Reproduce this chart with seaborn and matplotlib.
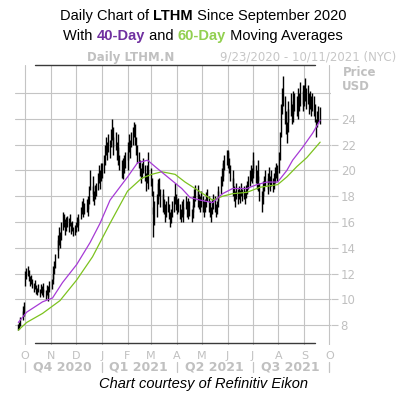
import matplotlib
matplotlib.use("Agg")
import matplotlib.pyplot as plt
import matplotlib.transforms as mtransforms
import matplotlib.dates as mdates
import numpy as np
import pandas as pd
import seaborn as sns

# ---------------- data: daily (low, high) bars, USD ----------------
sep20 = [(7.6,8.1),(7.7,8.2),(7.9,8.6),(8.4,9.1),(8.8,9.5),(8.7,9.8)]
oct20 = [(11.0,12.2),(11.6,12.4),(11.8,12.6),(11.4,12.3),(11.0,11.8),(11.2,11.9),(10.9,11.6),
         (10.6,11.3),(10.8,11.5),(10.4,11.1),(10.3,10.9),(10.6,11.2),(10.2,10.8),(10.5,11.2),
         (10.3,11.0),(10.6,11.3),(10.2,10.8),(10.0,10.7),(10.3,11.1),(9.9,10.5),(10.2,11.0),(10.6,11.4)]
nov20 = [(10.8,11.6),(11.2,12.0),(11.6,12.6),(12.0,13.0),(12.4,13.5),(13.2,14.6),(13.8,15.0),
         (14.2,15.6),(14.0,15.2),(14.6,16.0),(15.4,16.8),(15.6,16.6),(15.0,16.2),(15.3,16.4),
         (15.6,16.5),(15.2,16.3),(15.7,16.6),(15.1,16.0),(15.3,16.1),(14.9,15.6),(15.0,15.8)]
dec20 = [(15.2,16.0),(15.6,16.4),(15.3,16.2),(15.8,16.6),(16.2,17.2),(16.6,17.6),(16.8,17.9),
         (16.4,17.3),(16.6,17.5),(16.8,17.8),(16.5,17.4),(17.0,18.0),(17.4,18.8),(18.5,20.0),
         (18.2,19.6),(17.6,18.8),(17.3,18.4),(17.8,18.9),(18.0,19.0),(18.5,19.8),(19.0,20.4),
         (18.6,20.0),(19.2,20.6)]
jan21 = [(19.4,20.6),(19.8,21.2),(20.4,22.0),(21.2,22.6),(20.8,22.2),(21.4,22.8),(21.0,22.4),
         (21.8,23.2),(22.4,24.0),(21.8,23.4),(21.2,22.6),(21.6,23.0),(20.8,22.2),(21.2,22.8),
         (20.4,21.8),(20.0,21.2),(19.4,20.8),(19.8,21.0),(19.3,20.4),(19.8,21.2),(20.2,21.4)]
feb21 = [(20.0,21.4),(20.8,22.2),(21.4,22.8),(21.0,22.4),(21.8,23.0),(22.0,23.4),(22.6,23.8),
         (22.0,23.6),(21.2,22.6),(20.6,22.0),(20.2,21.4),(19.6,20.8),(19.0,20.2),(19.4,20.6),
         (19.8,21.0),(19.2,20.4),(18.4,19.8),(19.0,20.4),(19.8,21.4),(18.6,20.0)]
mar21 = [(18.8,20.2),(18.0,19.4),(16.6,18.4),(14.8,17.2),(15.8,17.6),(16.4,18.2),(17.4,19.3),
         (17.8,19.0),(18.0,19.4),(17.2,18.6),(16.8,18.2),(17.2,18.6),(16.6,17.8),(16.0,17.4),
         (16.4,17.6),(16.8,18.0),(16.2,17.4),(15.6,16.8),(15.9,17.0),(16.4,17.6),(16.8,18.0),
         (17.4,19.0),(16.9,18.2)]
apr21 = [(16.6,17.8),(16.8,17.9),(16.2,17.4),(16.0,17.0),(16.4,17.6),(16.0,17.2),(16.6,17.8),
         (17.0,18.0),(16.4,17.6),(16.8,17.9),(16.2,17.4),(16.5,17.6),(16.0,17.0),(16.3,17.3),
         (16.8,18.0),(17.2,18.6),(17.6,18.9),(17.2,18.4),(17.8,18.9),(17.0,18.2),(16.8,18.0),(17.2,18.4)]
may21 = [(16.8,18.0),(16.4,17.6),(16.8,17.8),(17.2,18.3),(17.6,18.6),(16.8,18.0),(16.4,17.6),
         (16.0,17.2),(16.6,17.8),(17.0,18.2),(16.8,18.0),(16.4,17.4),(16.6,17.6),(17.2,18.4),
         (17.6,18.8),(18.2,19.6),(18.8,20.2),(19.2,20.6),(19.6,20.8),(20.0,21.2),(20.4,21.6)]
jun21 = [(20.2,21.4),(20.6,21.6),(19.8,21.0),(19.2,20.4),(18.8,20.0),(18.0,19.4),(17.6,18.8),
         (17.2,18.4),(17.8,19.0),(17.4,18.6),(17.8,18.8),(17.5,18.5),(18.0,19.0),(17.6,18.6),
         (17.8,18.8),(17.4,18.4),(17.9,18.9),(18.2,19.2),(18.6,19.6),(18.8,20.0),(19.2,20.4),(19.0,20.2)]
jul21 = [(19.8,21.4),(19.4,20.8),(19.0,20.4),(18.6,20.0),(19.2,20.8),(18.4,19.6),(17.6,19.0),
         (16.8,18.4),(17.4,18.8),(18.0,19.2),(18.4,19.6),(18.8,20.0),(18.2,19.4),(18.6,19.8),
         (19.0,20.3),(18.4,19.6),(18.8,20.0),(18.3,19.4),(18.6,19.8),(19.0,20.3),(19.4,20.6),(19.2,20.4)]
aug21 = [(19.8,21.4),(20.8,23.0),(22.6,25.2),(24.4,26.4),(25.0,27.3),(23.6,25.8),(22.8,24.6),
         (22.1,23.8),(23.0,24.8),(23.8,25.4),(24.2,26.0),(23.6,25.2),(24.4,26.2),(23.8,25.4),
         (24.6,26.0),(24.2,25.8),(24.8,26.4),(24.0,25.6),(24.6,26.0),(25.0,26.9),(25.2,26.6),(24.6,26.2)]
sep21 = [(25.0,26.6),(25.4,27.2),(24.8,26.4),(25.2,26.6),(24.4,26.0),(24.8,26.2),(24.2,25.8),
         (24.6,26.0),(24.2,25.8),(23.8,25.2),(22.6,24.0),(23.4,24.6),(23.8,25.0),(23.6,24.9)]

first_day = "2020-09-23"
last_day = "2021-09-20"

# moving averages
ma40_dates = ["2020-09-23","2020-10-03","2020-10-22","2020-11-03","2020-11-15","2020-12-02",
              "2020-12-18","2020-12-30","2021-01-11","2021-02-01","2021-02-13","2021-02-25",
              "2021-03-06","2021-03-21","2021-04-07","2021-04-17","2021-04-29","2021-05-14",
              "2021-05-26","2021-06-07","2021-06-24","2021-07-06","2021-07-18","2021-07-31",
              "2021-08-11","2021-08-18","2021-08-30","2021-09-11","2021-09-20"]
ma40_vals = [8.2, 9.0, 9.8, 10.1, 11.3, 12.7, 14.4, 15.9, 17.7, 19.5, 20.6, 20.8,
             20.3, 19.5, 18.6, 17.9, 17.7, 17.5, 18.2, 18.6, 18.6, 18.9, 19.1, 19.1,
             20.0, 20.8, 21.8, 22.9, 23.9]
ma60_dates = ["2020-09-23","2020-10-03","2020-10-22","2020-11-12","2020-12-02","2020-12-21",
              "2021-01-11","2021-02-01","2021-02-18","2021-03-02","2021-03-14","2021-03-30",
              "2021-04-11","2021-04-23","2021-05-14","2021-05-26","2021-06-07","2021-06-24",
              "2021-07-10","2021-07-31","2021-08-11","2021-08-23","2021-09-04","2021-09-20"]
ma60_vals = [7.6, 8.2, 8.9, 9.9, 11.5, 13.3, 15.9, 18.4, 19.4, 19.7, 19.9, 19.7,
             19.1, 18.6, 17.7, 18.0, 18.2, 18.3, 18.7, 18.9, 19.5, 20.3, 21.0, 22.2]

y_ticks = [8, 10, 12, 14, 16, 18, 20, 22, 24]
month_letters = ["O", "N", "D", "J", "F", "M", "A", "M", "J", "J", "A", "S", "O"]
quarter_labels = ["Q4 2020", "Q1 2021", "Q2 2021", "Q3 2021"]
quarter_centers = ["2020-11-15", "2021-02-14", "2021-05-16", "2021-08-15"]
quarter_bounds = ["2020-10-01", "2021-01-01", "2021-04-01", "2021-07-01", "2021-10-01"]

# ---------------- build frames ----------------
bars = sep20 + oct20 + nov20 + dec20 + jan21 + feb21 + mar21 + apr21 + may21 + jun21 + jul21 + aug21 + sep21
days = pd.bdate_range(first_day, last_day)
assert len(days) == len(bars), (len(days), len(bars))
df = pd.DataFrame({"date": days, "low": [b[0] for b in bars], "high": [b[1] for b in bars]})
ma40 = pd.DataFrame({"date": pd.to_datetime(ma40_dates), "value": ma40_vals})
ma60 = pd.DataFrame({"date": pd.to_datetime(ma60_dates), "value": ma60_vals})

sns.set_style("white")
plt.rcParams["font.family"] = ["DejaVu Sans"]

W, H = 398, 400
fig = plt.figure(figsize=(W / 100, H / 100), dpi=100)

def fx(px):
    return px / W

def fy(py):
    return 1 - py / H

ax_left, ax_right, ax_top, ax_bottom = 15, 331, 65, 345
ax = fig.add_axes([fx(ax_left), fy(ax_bottom), fx(ax_right - ax_left), (ax_bottom - ax_top) / H])

GRID = "#c4c4c4"
LABEL = "#c0c0c0"

# price bars
ax.vlines(df["date"], df["low"], df["high"], color="black", linewidth=1.0, zorder=3)
# moving averages
sns.lineplot(data=ma60, x="date", y="value", ax=ax, color="#7cc21e", linewidth=0.9, zorder=4)
sns.lineplot(data=ma40, x="date", y="value", ax=ax, color="#a63ad6", linewidth=0.9, zorder=5)

ax.set_xlim(pd.Timestamp("2020-09-19"), pd.Timestamp("2021-10-03"))
ax.set_ylim(6.45, 28.19)
ax.set_xlabel("")
ax.set_ylabel("")
for s in ax.spines.values():
    s.set_visible(False)

# y axis on right
ax.yaxis.tick_right()
ax.set_yticks(y_ticks)
ax.set_yticklabels([str(v) for v in y_ticks])
ax.tick_params(axis="y", which="major", length=5, width=0.8, color=GRID, labelcolor=LABEL,
               labelsize=8.5, pad=2, left=False, right=True)
for v in y_ticks + [26]:
    ax.axhline(v, color=GRID, linewidth=0.8, zorder=1)

# x axis months
month_starts = pd.date_range("2020-10-01", "2021-10-01", freq="MS")
ax.set_xticks(month_starts)
ax.set_xticklabels(month_letters)
ax.tick_params(axis="x", length=0, pad=4, labelcolor=LABEL, labelsize=8)
for d in month_starts:
    ax.axvline(d, color=GRID, linewidth=0.8, zorder=1)

blend = mtransforms.blended_transform_factory(ax.transData, ax.transAxes)
# dark frame lines top and bottom
frame_x = [pd.Timestamp("2020-10-13"), pd.Timestamp("2021-09-14")]
ax.plot(frame_x, [1.0, 1.0], transform=blend, color="#3a3a3a", linewidth=1.0, clip_on=False, zorder=6)
ax.plot(frame_x, [0.007, 0.007], transform=blend, color="#3a3a3a", linewidth=1.0, clip_on=False, zorder=6)

# quarter separators and labels
for qb in quarter_bounds:
    t = pd.Timestamp(qb)
    ax.plot([t, t], [-0.060, -0.097], transform=blend, color=GRID, linewidth=0.9, clip_on=False)
for lab, c in zip(quarter_labels, quarter_centers):
    ax.text(pd.Timestamp(c), -0.079, lab, transform=blend, ha="center", va="center",
            fontsize=9, fontweight="bold", color=LABEL)

# header texts
fig.text(fx(131), fy(57), "Daily LTHM.N", ha="center", va="center", fontsize=8.5,
         fontweight="bold", color=LABEL)
fig.text(fx(396), fy(57), "9/23/2020 - 10/11/2021 (NYC)", ha="right", va="center",
         fontsize=8.5, color="#c6c6c6")
fig.text(fx(343), fy(72), "Price", ha="left", va="center", fontsize=8.5, fontweight="bold", color=LABEL)
fig.text(fx(342), fy(87), "USD", ha="left", va="center", fontsize=8.5, fontweight="bold", color=LABEL)

# rich title lines
renderer = fig.canvas.get_renderer()

def rich_line(parts, cx, cy, size):
    objs = []
    total = 0.0
    for s, color, weight in parts:
        t = fig.text(0, fy(cy), s, fontsize=size, color=color, fontweight=weight,
                     family=["Liberation Sans", "DejaVu Sans"], ha="left", va="center")
        w = t.get_window_extent(renderer).width
        objs.append((t, w))
        total += w
    x = cx - total / 2
    for t, w in objs:
        t.set_x(fx(x))
        x += w

rich_line([("Daily Chart of ", "black", "normal"), ("LTHM", "black", "bold"),
           (" Since September 2020", "black", "normal")], 203, 16, 10.5)
rich_line([("With ", "black", "normal"), ("40-Day", "#7030a0", "bold"),
           (" and ", "black", "normal"), ("60-Day", "#92d050", "bold"),
           (" Moving Averages", "black", "normal")], 203, 36, 10.5)

fig.text(fx(203), fy(384), "Chart courtesy of Refinitiv Eikon", ha="center", va="center",
         fontsize=10.5, style="italic", family=["Liberation Sans", "DejaVu Sans"], color="black")

fig.savefig("out.png", dpi=100)
